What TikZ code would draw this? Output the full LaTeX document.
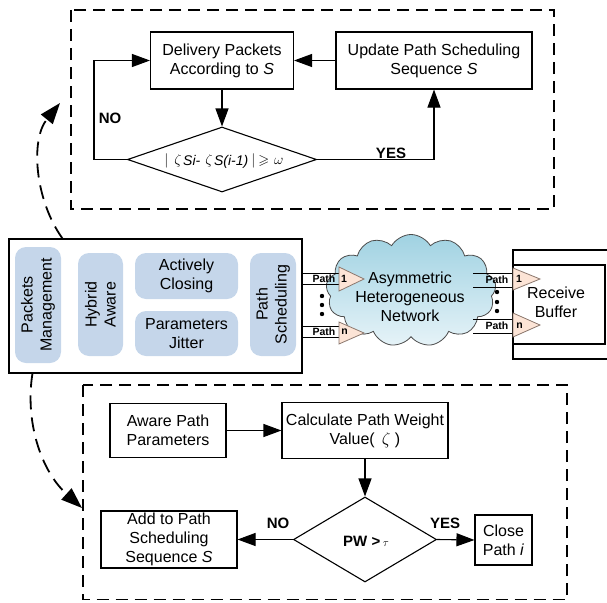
\documentclass[tikz,border=0pt]{standalone}
\usepackage{fontspec}
\setmainfont{Liberation Sans}
\usepackage{amssymb}
\usetikzlibrary{arrows.meta,shapes.geometric,shapes.symbols}
\definecolor{softblue}{RGB}{197,214,234}
\definecolor{peach}{RGB}{252,228,214}
\definecolor{tribord}{RGB}{140,120,110}
\definecolor{cloudtop}{RGB}{160,210,226}
\definecolor{cloudbot}{RGB}{230,243,248}
\newcommand\mainfs{\fontsize{16}{19}\selectfont}
\begin{document}
\begin{tikzpicture}[x=1pt,y=-1pt,
  fbox/.style={draw, line width=1.1pt, inner sep=0pt, align=center, font=\mainfs},
  rbox/.style={fill=softblue, rounded corners=11pt, inner sep=0pt, align=center, font=\mainfs},
  dbox/.style={draw, dash pattern=on 12pt off 7pt, line width=1.5pt},
  flow/.style={line width=1.1pt, -{Triangle[length=18pt,width=13pt]}},
  bigarr/.style={line width=1.8pt, dash pattern=on 14pt off 8pt, -{Triangle[length=21pt,width=15pt]}},
  lbl/.style={font=\bfseries\fontsize{15}{18}\selectfont, inner sep=0pt},
  plbl/.style={font=\bfseries\fontsize{10.5}{12}\selectfont, inner sep=0pt},
  ptri/.style={fill=peach, draw=tribord, line width=0.8pt},
  chan/.style={line width=0.9pt},
  txt/.style={font=\mainfs, align=center, inner sep=0pt}
]
\useasboundingbox (0,0) rectangle (607,602);

% ---------- top dashed frame ----------
\draw[dbox] (71,10) rectangle (554,209);
\node[fbox, minimum width=143pt, minimum height=57pt] (deliv) at (222,60.5) {Delivery Packets\\According to \textit{S}};
\node[fbox, minimum width=196pt, minimum height=57pt] (upd) at (434,60.5) {Update Path Scheduling\\Sequence \textit{S}};
\node[diamond, draw, line width=1.1pt, minimum width=189pt, minimum height=65pt, inner sep=0pt] (d1) at (222,159.5) {};
\node[inner sep=0pt, font=\fontsize{14}{16}\selectfont] (f1) at (224,161) {$|$\hspace{6pt}$\zeta$\hspace{1.5pt}\raisebox{-1pt}{\textit{Si-}}\hspace{5pt}$\zeta$\hspace{1.5pt}\raisebox{-1pt}{\textit{S(i-1)}}\hspace{3pt}$|$\hspace{3pt}$\geqslant$\hspace{5pt}$\omega$};
\draw[flow] (upd.west) -- (deliv.east);
\draw[flow] (deliv.south) -- (d1.north);
\draw[flow] (d1.west) -- ++(-33,0) |- (deliv.west);
\draw[flow] (d1.east) -| (upd.south);
\node[lbl] (no1) at (110,118) {NO};
\node[lbl] (yes1) at (391,153) {YES};

% ---------- middle: main module box ----------
\node[draw, line width=1.1pt, minimum width=293pt, minimum height=134pt, inner sep=0pt] (main) at (155.5,306) {};
\node[rbox, rotate=90, minimum width=116pt, minimum height=46pt] (pm) at (38,305) {Packets\\Management};
\node[rbox, rotate=90, minimum width=103pt, minimum height=45pt] (ha) at (100.5,304.5) {Hybrid\\Aware};
\node[rbox, minimum width=103pt, minimum height=46pt] (ac) at (186.5,276) {Actively\\Closing};
\node[rbox, minimum width=103pt, minimum height=45pt] (pj) at (186.5,333.5) {Parameters\\Jitter};
\node[rbox, rotate=90, minimum width=103pt, minimum height=46pt] (ps) at (273,304.5) {Path\\Scheduling};

% cloud
\node[cloud, cloud puffs=13, cloud puff arc=120, aspect=1.5, draw=black!70, line width=0.8pt,
      top color=cloudtop, bottom color=cloudbot, minimum width=170pt, minimum height=112pt, inner sep=0pt] (net) at (411,290.5) {};
\node[txt] (nett) at (410,297) {Asymmetric\\Heterogeneous\\Network};

% left channels
\draw[chan] (main.east |- 0,273) -- (339,273);
\draw[chan] (main.east |- 0,284) -- (339,284);
\draw[chan] (main.east |- 0,326) -- (339,326);
\draw[chan] (main.east |- 0,337) -- (339,337);
\draw[ptri] (339,267) -- (364,279) -- (339,291) -- cycle;
\draw[ptri] (339,322) -- (364,333) -- (339,344) -- cycle;
\node[plbl] (lp1) at (324,278.5) {Path};
\node[plbl] (ln1) at (344,279) {1};
\node[plbl] (lpn) at (324,331.5) {Path};
\node[plbl] (lnn) at (344.5,332) {n};
\foreach \yy in {296,305,314} \fill (322,\yy) circle (2.2pt);

% receive buffer
\draw[line width=1.1pt] (615,250) -- (513,250) -- (513,359) -- (615,359);
\node[draw, line width=1.1pt, minimum width=92pt, minimum height=79pt, inner sep=0pt] (rb) at (559,304.5) {};
\node[txt] (rbt) at (556,302) {Receive\\Buffer};

% right channels
\draw[chan] (473,273) -- (rb.west |- 0,273);
\draw[chan] (473,287) -- (rb.west |- 0,287);
\draw[chan] (473,319) -- (rb.west |- 0,319);
\draw[chan] (473,333) -- (rb.west |- 0,333);
\draw[ptri] (513,268) -- (540,279) -- (513,290) -- cycle;
\draw[ptri] (513,313) -- (540,325) -- (513,337) -- cycle;
\node[plbl] (rp1) at (497,280) {Path};
\node[plbl] (rn1) at (519,279) {1};
\node[plbl] (rpn) at (497,326) {Path};
\node[plbl] (rnn) at (519.5,326) {n};
\foreach \yy in {292,302,311} \fill (497,\yy) circle (2.2pt);

% ---------- bottom dashed frame ----------
\draw[dbox] (83,385) rectangle (567,599.5);
\node[fbox, minimum width=116pt, minimum height=54pt] (aware) at (168,430.5) {Aware Path\\Parameters};
\node[fbox, minimum width=166pt, minimum height=56pt] (calc) at (365,430.5) {Calculate Path Weight\\Value(\,\ $\zeta$\ )};
\node[diamond, draw, line width=1.1pt, minimum width=143pt, minimum height=85pt, inner sep=0pt] (d2) at (365,539.5) {};
\node[inner sep=0pt] (f2) at (366,541) {\bfseries\fontsize{15}{18}\selectfont PW >\,{\fontsize{11}{12}\selectfont$\tau$}};
\node[fbox, minimum width=136pt, minimum height=57pt] (add) at (169,539.5) {Add to Path\\Scheduling\\Sequence \textit{S}};
\node[fbox, minimum width=57pt, minimum height=50pt] (close) at (503.5,540) {Close\\Path \textit{i}};
\draw[flow] (aware.east) -- (aware.east -| calc.west);
\draw[flow] (calc.south) -- (d2.north);
\draw[flow] (d2.west) -- (add.east);
\draw[flow] (d2.east) -- (close.west);
\node[lbl] (no2) at (278,523) {NO};
\node[lbl] (yes2) at (445,523) {YES};

% ---------- dashed curved arrows ----------
\coordinate (topend) at (60,103);
\coordinate (botend) at (82,508);
\draw[bigarr] ([xshift=54pt]main.north west) .. controls (35,200) and (30,140) .. (topend);
\draw[bigarr] ([xshift=24pt]main.south west) .. controls (25,420) and (40,470) .. (botend);
\end{tikzpicture}
\end{document}
